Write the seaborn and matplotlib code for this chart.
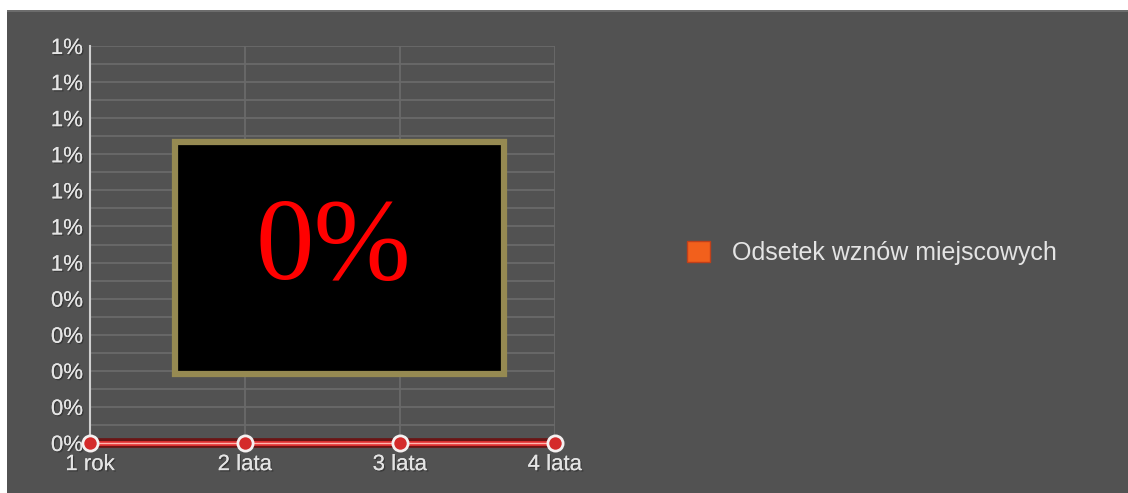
import math
import matplotlib
matplotlib.use("Agg")
import matplotlib.pyplot as plt
import matplotlib.patheffects as pe
from matplotlib.patches import Rectangle, Patch
from matplotlib.ticker import FuncFormatter, MultipleLocator
import pandas as pd
import seaborn as sns

# Local recurrence rate by follow-up period
periods = ["1 rok", "2 lata", "3 lata", "4 lata"]
recurrence_pct = [0.0, 0.0, 0.0, 0.0]
series_name = "Odsetek wznów miejscowych"
summary_text = "0%"

BG = "#525252"
GRID = "#6a6a6a"
TEXT = "#e4e4e4"

sns.set_theme(style="dark")
plt.rcParams["font.family"] = ["Liberation Sans", "DejaVu Sans"]

fig = plt.figure(figsize=(11.28, 4.93), dpi=100, facecolor="white")
W, H = 1128, 493

def fx(px):
    return px / W

def fy(py):
    return 1 - py / H

# dark panel behind the whole chart
fig.patches.append(Rectangle((fx(7), 0), 1 - fx(7), fy(10), transform=fig.transFigure,
                             facecolor=BG, edgecolor="none", zorder=-2))
fig.patches.append(Rectangle((fx(7), fy(12)), 1 - fx(7), fy(10) - fy(12), transform=fig.transFigure,
                             facecolor="#6c6c6c", edgecolor="none", zorder=-1))

ax = fig.add_axes([fx(90), fy(443), fx(555) - fx(90), fy(46) - fy(443)])
ax.set_zorder(1)
ax.set_facecolor(BG)

df = pd.DataFrame({"okres": periods, "odsetek": recurrence_pct})

# shadow, main stroke and highlight of the series line
sns.lineplot(data=df, x="okres", y="odsetek", ax=ax, color="#6a1515", lw=7, sort=False,
             clip_on=False, zorder=3)
sns.lineplot(data=df, x="okres", y="odsetek", ax=ax, color="#e03030", lw=3.5, sort=False,
             clip_on=False, zorder=4)
sns.lineplot(data=df, x="okres", y="odsetek", ax=ax, color="#ffb8b0", lw=1.0, sort=False,
             clip_on=False, zorder=5)
sns.scatterplot(data=df, x="okres", y="odsetek", ax=ax, s=120, color="#d42a2a",
                edgecolor="#f4f0f0", linewidth=2, clip_on=False, zorder=6)

ax.set_xlim(0, len(periods) - 1)
ax.set_ylim(0, 1.1)
ax.yaxis.set_major_locator(MultipleLocator(0.1))
ax.yaxis.set_minor_locator(MultipleLocator(0.05))
ax.yaxis.set_major_formatter(FuncFormatter(lambda v, _: f"{math.floor(v + 0.5 + 1e-9):d}%"))
ax.grid(True, which="both", axis="y", color=GRID, lw=1.3)
ax.grid(True, which="major", axis="x", color=GRID, lw=1.3)
ax.set_axisbelow(True)
ax.set_xlabel("")
ax.set_ylabel("")
for s in ["top", "right", "bottom"]:
    ax.spines[s].set_visible(False)
ax.spines["left"].set_color("#cfcfcf")
ax.spines["left"].set_linewidth(1.5)
ax.tick_params(axis="both", which="both", length=0, colors=TEXT, labelsize=16)
ax.tick_params(axis="y", pad=5)
ax.tick_params(axis="x", pad=8)
for lab in ax.get_xticklabels() + ax.get_yticklabels():
    lab.set_color(TEXT)
    lab.set_path_effects([pe.withSimplePatchShadow(offset=(1, -1), shadow_rgbFace="#2a2a2a", alpha=0.6),
                          pe.Normal()])

# legend on the right
leg = fig.legend(handles=[Patch(facecolor="#f2601c", edgecolor="#c0401a", label=series_name)],
                 loc="center left", bbox_to_anchor=(fx(665), fy(253)), frameon=False,
                 fontsize=18, handlelength=0.9, handleheight=0.9, handletextpad=0.9,
                 labelcolor=TEXT)

# summary box over the plot area
fig.patches.append(Rectangle((fx(175), fy(374)), fx(504) - fx(175), fy(142) - fy(374),
                             transform=fig.transFigure, facecolor="black",
                             edgecolor="#968a52", linewidth=4.5, zorder=10))
fig.text(fx(333), fy(251), summary_text, color="red", fontsize=84,
         family=["Liberation Serif", "DejaVu Serif"], ha="center", va="center", zorder=11)

fig.savefig("out.png", dpi=100, facecolor="white")
